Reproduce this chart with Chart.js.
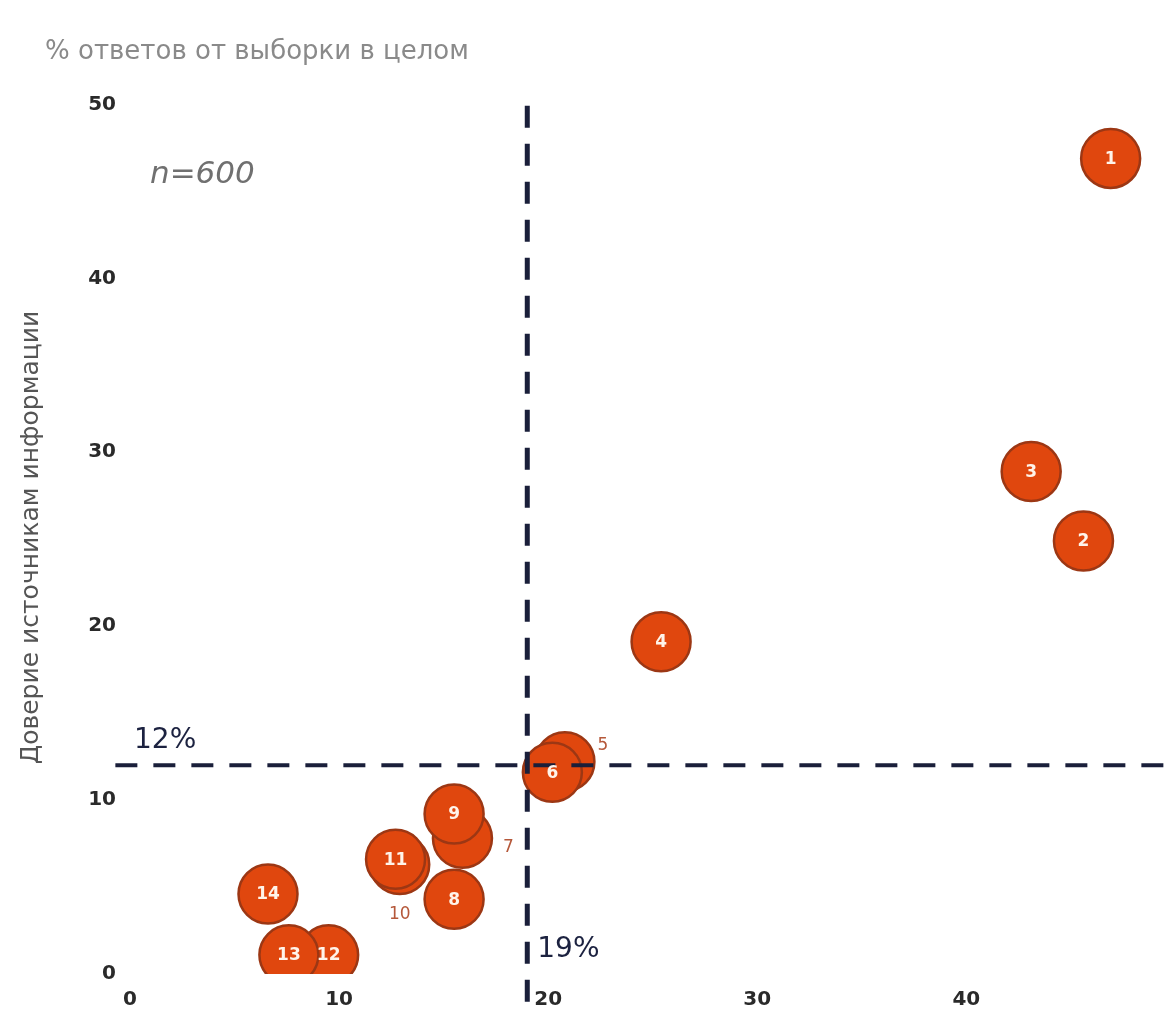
<!DOCTYPE html>
<html><head><meta charset="utf-8">
<script src="https://cdn.jsdelivr.net/npm/chart.js@4.4.1/dist/chart.umd.min.js"></script>
<style>html,body{margin:0;padding:0;background:#fff;overflow:hidden;}</style>
</head><body>
<canvas id="c" width="1165" height="1019"></canvas>
<script>
// ---- data ----
const pointLabels = ['1','2','3','4','5','6','7','9','8','10','11','14','12','13'];
const xValues     = [46.9, 45.6, 43.1, 25.4, 20.8, 20.2, 15.9, 15.5, 15.5, 12.9, 12.7, 6.6, 9.5, 7.6];
const yValues     = [46.9, 24.9, 28.9, 19.1, 12.2, 11.6, 7.8, 9.2, 4.3, 6.3, 6.6, 4.6, 1.1, 1.1];
const outsideLabels = ['5','7','10'];
const xTicks = [0,10,20,30,40];
const yTicks = [0,10,20,30,40,50];
const thresholdX = 19;
const thresholdY = 12;
const thresholdXLabel = '19%';
const thresholdYLabel = '12%';
const subtitleText = '% ответов от выборки в целом';
const yTitleText = 'Доверие источникам информации';
const sampleText = 'n=600';

const points = xValues.map((x,i)=>({x, y:yValues[i]}));

const textPlugin = {
  id:'texts',
  afterDatasetsDraw(chart){
    const {ctx, scales:{x,y}} = chart;
    const meta = chart.getDatasetMeta(0);
    ctx.save();
    ctx.textAlign='center'; ctx.textBaseline='middle';
    meta.data.forEach((pt,i)=>{
      const lab = pointLabels[i];
      if (outsideLabels.includes(lab)) return;
      ctx.fillStyle='#fff4ea';
      ctx.font='bold 17px "DejaVu Sans"';
      ctx.fillText(lab, pt.x, pt.y+1);
    });
    const offs = {'5':[38,-16],'7':[46,9],'10':[0,50]};
    outsideLabels.forEach(lab=>{
      const i = pointLabels.indexOf(lab);
      const pt = meta.data[i];
      ctx.fillStyle='#b5583a';
      ctx.font='17px "DejaVu Sans"';
      ctx.fillText(lab, pt.x+offs[lab][0], pt.y+offs[lab][1]);
    });
    ctx.textAlign='left';
    ctx.fillStyle='#1c2240';
    ctx.font='28px "DejaVu Sans"';
    ctx.fillText(thresholdYLabel, x.getPixelForValue(0)+4, y.getPixelForValue(thresholdY)-25);
    ctx.fillText(thresholdXLabel, x.getPixelForValue(thresholdX)+10, y.getPixelForValue(1.4));
    ctx.fillStyle='#707070';
    ctx.font='italic 31px "DejaVu Sans"';
    ctx.fillText(sampleText, 150, 175);
    ctx.fillStyle='#8a8a8a';
    ctx.font='26px "DejaVu Sans"';
    ctx.fillText(subtitleText, 45, 52);
    ctx.restore();
  }
};

new Chart(document.getElementById('c'), {
  type:'scatter',
  data:{
    datasets:[
      {
        data: points,
        backgroundColor:'#e0470e',
        borderColor:'#9c3714',
        borderWidth:2.5,
        pointRadius:29.5,
        pointHoverRadius:29.5,
        order:2
      },
      {
        type:'line',
        data:[{x:-0.7,y:thresholdY},{x:49.6,y:thresholdY}],
        borderColor:'#1a1f3a',
        borderWidth:4,
        borderDash:[22,16],
        pointRadius:0,
        showLine:true,
        clip:false,
        order:1
      },
      {
        type:'line',
        data:[{x:thresholdX,y:-1.6},{x:thresholdX,y:50.3}],
        borderColor:'#1a1f3a',
        borderWidth:5,
        borderDash:[22,16],
        pointRadius:0,
        showLine:true,
        clip:false,
        order:1
      }
    ]
  },
  options:{
    responsive:false,
    animation:false,
    events:[],
    layout:{autoPadding:false, padding:{left:10,top:101,right:0,bottom:0}},
    plugins:{legend:{display:false},tooltip:{enabled:false}},
    scales:{
      x:{
        type:'linear', min:0, max:49.5,
        grid:{display:false, drawTicks:false}, border:{display:false},
        afterBuildTicks(s){ s.ticks = xTicks.map(v=>({value:v})); },
        afterFit(s){ s.height = 45; s.paddingLeft = 0; s.paddingRight = 0; },
        ticks:{padding:14, color:'#2a2a2a', font:{family:'DejaVu Sans', size:20, weight:'bold'}}
      },
      y:{
        type:'linear', min:0, max:50.2,
        grid:{display:false, drawTicks:false}, border:{display:false},
        afterBuildTicks(s){ s.ticks = yTicks.map(v=>({value:v})); },
        afterFit(s){ s.width = 120; s.paddingTop = 0; s.paddingBottom = 0; },
        ticks:{padding:14, color:'#2a2a2a', font:{family:'DejaVu Sans', size:20, weight:'bold'}},
        title:{display:true, text:yTitleText, color:'#555', padding:{top:6,bottom:0}, font:{family:'DejaVu Sans', size:25}}
      }
    }
  },
  plugins:[textPlugin]
});
</script>
</body></html>
